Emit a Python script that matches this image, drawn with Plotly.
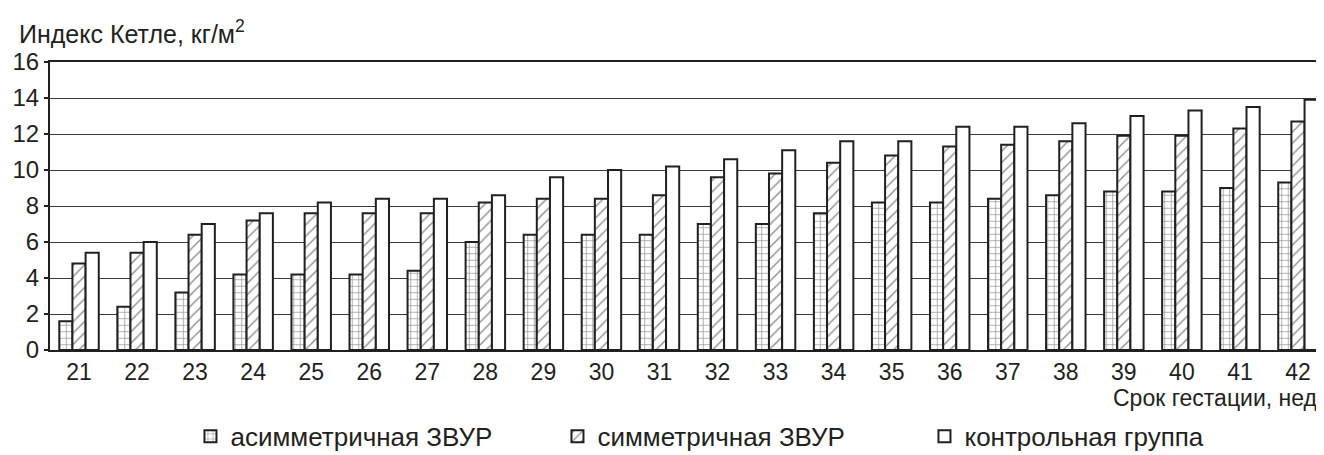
import plotly.graph_objects as go

weeks = ["21", "22", "23", "24", "25", "26", "27", "28", "29", "30", "31",
         "32", "33", "34", "35", "36", "37", "38", "39", "40", "41", "42"]
asym = [1.6, 2.4, 3.2, 4.2, 4.2, 4.2, 4.4, 6.0, 6.4, 6.4, 6.4,
        7.0, 7.0, 7.6, 8.2, 8.2, 8.4, 8.6, 8.8, 8.8, 9.0, 9.3]
sym = [4.8, 5.4, 6.4, 7.2, 7.6, 7.6, 7.6, 8.2, 8.4, 8.4, 8.6,
       9.6, 9.8, 10.4, 10.8, 11.3, 11.4, 11.6, 11.9, 11.9, 12.3, 12.7]
ctrl = [5.4, 6.0, 7.0, 7.6, 8.2, 8.4, 8.4, 8.6, 9.6, 10.0, 10.2,
        10.6, 11.1, 11.6, 11.6, 12.4, 12.4, 12.6, 13.0, 13.3, 13.5, 13.9]
y_ticks = [0, 2, 4, 6, 8, 10, 12, 14, 16]

FONT = "Liberation Sans, Arial, Helvetica, sans-serif"
INK = "#231f20"

fig = go.Figure()
fig.add_trace(go.Bar(
    x=weeks, y=asym, name="асимметричная ЗВУР",
    marker=dict(color="white", line=dict(color=INK, width=2),
                pattern=dict(shape="+", fgcolor=INK, bgcolor="white", size=6.5, solidity=0.2)),
))
fig.add_trace(go.Bar(
    x=weeks, y=sym, name="симметричная ЗВУР",
    marker=dict(color="white", line=dict(color=INK, width=2),
                pattern=dict(shape="/", fgcolor=INK, bgcolor="white", size=8, solidity=0.18)),
))
fig.add_trace(go.Bar(
    x=weeks, y=ctrl, name="контрольная группа",
    marker=dict(color="white", line=dict(color=INK, width=2)),
))

fig.update_layout(
    width=1324, height=455,
    margin=dict(l=42, r=3, t=54, b=102),
    paper_bgcolor="white", plot_bgcolor="white",
    font=dict(family=FONT, size=24, color=INK),
    barmode="group", bargap=0.32, bargroupgap=0,
    showlegend=True,
    legend=dict(orientation="h", x=0.11, xanchor="left", y=-0.30, yanchor="middle",
                font=dict(size=26, family=FONT, color=INK), traceorder="normal",
                itemwidth=30, entrywidth=322, entrywidthmode="pixels"),
    xaxis=dict(type="category", showgrid=False, showline=True, linecolor=INK, linewidth=2,
               mirror=True, ticks="", tickfont=dict(size=23, family=FONT, color=INK)),
    yaxis=dict(range=[0, 16], tickvals=y_ticks, showgrid=True, gridcolor="#3a3a3a", gridwidth=1.2,
               showline=True, linecolor=INK, linewidth=2, mirror=True, ticks="outside",
               ticklen=4, tickcolor=INK, tickwidth=1.5, zeroline=False,
               tickfont=dict(size=24, family=FONT, color=INK)),
    annotations=[
        dict(text="Индекс Кетле, кг/м<sup>2</sup>", xref="paper", yref="paper",
             x=0, xshift=-33, y=1.105, xanchor="left", yanchor="middle", showarrow=False,
             font=dict(size=25, family=FONT, color=INK)),
        dict(text="Срок гестации, нед.", xref="paper", yref="paper",
             x=1, xshift=-2, y=-0.165, xanchor="right", yanchor="middle", showarrow=False,
             font=dict(size=23, family=FONT, color=INK)),
    ],
)

fig.write_html("out.html")
